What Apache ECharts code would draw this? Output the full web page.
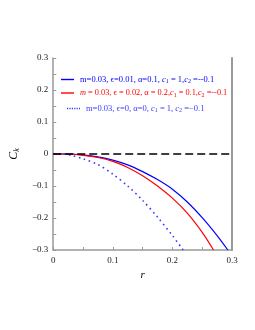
<!DOCTYPE html>
<html><head><meta charset="utf-8">
<script src="https://cdn.jsdelivr.net/npm/echarts@6/dist/echarts.min.js"></script>
<style>html,body{margin:0;padding:0;background:#fff}#c{width:255px;height:330px}</style>
</head><body><div id="c"></div>
<script>
const blueR = [0, 0.025, 0.05, 0.075, 0.1, 0.125, 0.15, 0.175, 0.2, 0.225, 0.25, 0.275, 0.293];
const blueC = [0, 0, -0.003, -0.009, -0.019, -0.034, -0.055, -0.08, -0.11, -0.15, -0.199, -0.255, -0.3];
const redR = [0, 0.025, 0.05, 0.075, 0.1, 0.125, 0.15, 0.175, 0.2, 0.225, 0.25, 0.269];
const redC = [0, 0, -0.004, -0.011, -0.023, -0.042, -0.068, -0.1, -0.138, -0.185, -0.245, -0.3];
const dotR = [0, 0.015, 0.03, 0.05, 0.075, 0.1, 0.125, 0.15, 0.175, 0.2, 0.218];
const dotC = [0, 0, -0.004, -0.015, -0.033, -0.063, -0.1, -0.145, -0.197, -0.255, -0.3];
const names = ['s1', 's2', 's3'];
const colors = ['#0000ff', '#ff0000', '#3c3cff'];

const zip = (a, b) => a.map((v, i) => [v, b[i]]);
const fmt = v => { const r = Math.round(v * 10) / 10; return r === 0 ? '0' : (r < 0 ? '\u2212' + (-r) : '' + r); };
const ff = '"Liberation Serif", "DejaVu Serif", serif';

const legendText = {
  s1: 'm=0.03, \u03f5=0.01, \u03b1=0.1, {i|c}{s|1} = 1,{i|c}{s|2} =--0.1',
  s2: '{i|m} = 0.03, \u03f5 = 0.02, \u03b1 = 0.2,{i|c}{s|1} = 0.1,{i|c}{s|2} =--0.1',
  s3: 'm=0.03, \u03f5=0, \u03b1=0, {i|c}{s|1} = 1, {i|c}{s|2} =\u22120.1'
};
const fsz = [8.5, 8.3, 8.5];
const solidIcon = 'path://M0,0h13v1.4h-13z';
const dotIcon = 'path://M0,0h1.2v1.4h-1.2z M2.4,0h1.2v1.4h-1.2z M4.8,0h1.2v1.4h-1.2z M7.2,0h1.2v1.4h-1.2z M9.6,0h1.2v1.4h-1.2z M12,0h1v1.4h-1z';
const legendPos = [[56, 70, solidIcon], [56, 84, solidIcon], [62, 99, dotIcon]];

function mkLegend(i) {
  return {
    left: legendPos[i][0], top: legendPos[i][1], itemWidth: 13, itemHeight: 1.4, itemGap: 0,
    data: [{name: names[i], icon: legendPos[i][2], itemStyle: {color: colors[i]}, textStyle: {color: colors[i]}}],
    formatter: n => legendText[n],
    textStyle: {
      fontFamily: ff, fontSize: fsz[i], color: colors[i], padding: [0, 0, 0, 1],
      rich: {
        i: {fontStyle: 'italic', fontFamily: ff, fontSize: fsz[i], color: colors[i]},
        s: {fontSize: 6, fontFamily: ff, color: colors[i], padding: [4, 0, 0, 0]}
      }
    }
  };
}

const chart = echarts.init(document.getElementById('c'), null, {renderer: 'canvas'});
chart.setOption({
  animation: false,
  textStyle: {fontFamily: ff},
  grid: {left: 53, right: 23, top: 58, bottom: 80, containLabel: false},
  legend: [mkLegend(0), mkLegend(1), mkLegend(2)],
  xAxis: {
    type: 'value', min: 0, max: 0.3, interval: 0.1,
    name: 'r', nameLocation: 'middle', nameGap: 19,
    nameTextStyle: {fontFamily: ff, fontStyle: 'italic', fontSize: 11, color: '#000'},
    axisLine: {show: true, onZero: false, lineStyle: {color: '#999', width: 1.5}},
    axisTick: {show: true, inside: true, length: 3, lineStyle: {color: '#999'}},
    minorTick: {show: true, splitNumber: 2, length: 3, lineStyle: {color: '#999'}},
    axisLabel: {formatter: v => fmt(v), fontSize: 9, color: '#222', fontFamily: ff, margin: 6},
    splitLine: {show: false}
  },
  yAxis: [{
    type: 'value', min: -0.3, max: 0.3, interval: 0.1,
    name: 'C{k|k}', nameLocation: 'middle', nameGap: 20, nameRotate: 90,
    nameTextStyle: {fontFamily: ff, fontStyle: 'italic', fontSize: 12, color: '#000',
      rich: {k: {fontFamily: ff, fontStyle: 'italic', fontSize: 8, padding: [6, 0, 0, 0]}}},
    axisLine: {show: true, onZero: false, lineStyle: {color: '#999', width: 1.5}},
    axisTick: {show: true, inside: true, length: 3, lineStyle: {color: '#999'}},
    minorTick: {show: true, splitNumber: 2, length: 3, lineStyle: {color: '#999'}},
    axisLabel: {formatter: v => fmt(v), fontSize: 9, color: '#222', fontFamily: ff, margin: 5},
    splitLine: {show: false}
  }, {
    type: 'value', min: -0.3, max: 0.3, interval: 0.1, position: 'right',
    axisLine: {show: true, onZero: false, lineStyle: {color: '#999', width: 2}},
    axisTick: {show: false}, axisLabel: {show: false}, splitLine: {show: false}
  }],
  series: [
    {name: 's1', type: 'line', data: zip(blueR, blueC), smooth: 0.3, showSymbol: false, symbol: 'none',
     lineStyle: {color: colors[0], width: 1.2}, itemStyle: {color: colors[0]},
     markLine: {silent: true, symbol: 'none', label: {show: false},
       lineStyle: {color: '#000', type: [8, 4], width: 1.5},
       data: [[{coord: [0, 0]}, {coord: [0.3, 0]}]]}},
    {name: 's2', type: 'line', data: zip(redR, redC), smooth: 0.3, showSymbol: false, symbol: 'none',
     lineStyle: {color: colors[1], width: 1.2}, itemStyle: {color: colors[1]}},
    {name: 's3', type: 'line', data: zip(dotR, dotC), smooth: 0.3, showSymbol: false, symbol: 'none',
     lineStyle: {color: colors[2], width: 1.6, type: [1.6, 3.6]}, itemStyle: {color: colors[2]}}
  ]
});
</script></body></html>
